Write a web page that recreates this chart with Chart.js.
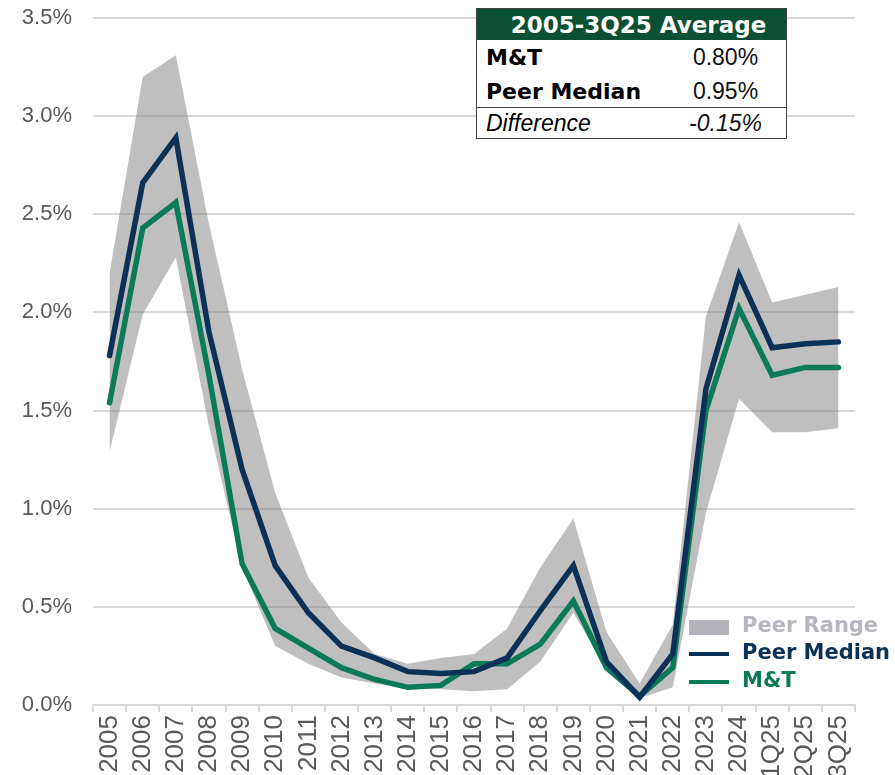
<!DOCTYPE html>
<html>
<head>
<meta charset="utf-8">
<script src="https://cdn.jsdelivr.net/npm/chart.js@4.4.1/dist/chart.umd.min.js"></script>
<style>
    html, body { margin: 0; padding: 0; background: #fff; overflow: hidden; }
    #wrap { position: relative; width: 895px; height: 775px; }
    #avg {
        position: absolute; left: 476px; top: 8px; width: 311px;
        border-collapse: collapse; background: #fff;
        border: 1.5px solid #404040;
    }
    #avg td { padding: 0; white-space: nowrap; }
    #avg .head td {
        height: 31px; background: #0b4f35; color: #fff; text-align: center;
        font: bold 23px "DejaVu Sans", sans-serif; padding-left: 14px;
    }
    #avg .lbl { width: 179px; padding-left: 9px; font: bold 22px "DejaVu Sans", sans-serif; color: #000; }
    #avg .val { text-align: center; font: 23px "Liberation Sans", Arial, sans-serif; color: #111; }
    #avg .r1 td { height: 35px; }
    #avg .r2 td { height: 32px; }
    #avg .r3 td { height: 30px; border-top: 1.5px solid #404040; font-style: italic; font-weight: normal; }
    #avg .r3 .lbl { font: italic 23px "Liberation Sans", Arial, sans-serif; }
    .lg { position: absolute; left: 689px; height: 28px; width: 210px; }
    .lg .sw { position: absolute; left: 0; width: 40px; }
    .lg span { position: absolute; left: 53px; top: 0; line-height: 28px; font: bold 21px "DejaVu Sans", sans-serif; }
</style>
</head>
<body>
<div id="wrap">
    <canvas id="chartNco" width="895" height="775"></canvas>
    <table id="avg">
        <tr class="head"><td colspan="2">2005-3Q25 Average</td></tr>
        <tr class="r1"><td class="lbl">M&amp;T</td><td class="val">0.80%</td></tr>
        <tr class="r2"><td class="lbl">Peer Median</td><td class="val">0.95%</td></tr>
        <tr class="r3"><td class="lbl">Difference</td><td class="val">-0.15%</td></tr>
    </table>
    <div class="lg" style="top:613px;"><div class="sw" style="top:7px;height:15px;background:#b2b2b8;"></div><span style="color:#b6b6be;">Peer Range</span></div>
    <div class="lg" style="top:640px;"><div class="sw" style="top:12px;height:4px;background:#0c3156;"></div><span style="color:#0c3156;">Peer Median</span></div>
    <div class="lg" style="top:668px;"><div class="sw" style="top:12px;height:4px;background:#0a7a58;"></div><span style="color:#0a7a58;">M&amp;T</span></div>
</div>
<script>
    const labels = ['2005', '2006', '2007', '2008', '2009', '2010', '2011', '2012', '2013', '2014',
        '2015', '2016', '2017', '2018', '2019', '2020', '2021', '2022', '2023', '2024',
        '1Q25', '2Q25', '3Q25'];

    // values in %
    const peerMedian = [1.78, 2.66, 2.89, 1.90, 1.20, 0.71, 0.47, 0.30, 0.24, 0.17,
        0.16, 0.17, 0.24, 0.48, 0.71, 0.22, 0.04, 0.26, 1.61, 2.19,
        1.82, 1.84, 1.85];
    const mtb = [1.54, 2.43, 2.56, 1.68, 0.72, 0.39, 0.29, 0.19, 0.13, 0.09,
        0.10, 0.21, 0.21, 0.31, 0.53, 0.19, 0.045, 0.19, 1.50, 2.02,
        1.68, 1.72, 1.72];
    const peerHigh = [2.20, 3.20, 3.31, 2.45, 1.71, 1.08, 0.65, 0.42, 0.26, 0.21,
        0.24, 0.26, 0.39, 0.70, 0.95, 0.37, 0.11, 0.41, 1.98, 2.46,
        2.05, 2.09, 2.13];
    const peerLow = [1.29, 1.99, 2.28, 1.42, 0.70, 0.30, 0.21, 0.14, 0.11, 0.09,
        0.08, 0.07, 0.08, 0.22, 0.47, 0.18, 0.035, 0.09, 0.98, 1.56,
        1.39, 1.39, 1.41];

    const yMin = 0;
    const yMax = 3.5;
    const yStep = 0.5;

    const axisColor = '#595959';
    const gridColor = '#d9d9d9';

    const ctx = document.getElementById('chartNco').getContext('2d');

    new Chart(ctx, {
        type: 'line',
        data: {
            labels: labels,
            datasets: [{
                label: 'Peer Low',
                data: peerLow,
                borderWidth: 0,
                pointRadius: 0,
                fill: false,
                order: 3
            }, {
                label: 'Peer Range',
                data: peerHigh,
                borderWidth: 0,
                pointRadius: 0,
                backgroundColor: 'rgba(128,128,128,0.5)',
                fill: '-1',
                order: 2
            }, {
                label: 'M&T',
                data: mtb,
                borderColor: '#0a7a58',
                borderWidth: 5.5,
                borderCapStyle: 'round',
                pointRadius: 0,
                fill: false,
                order: 1
            }, {
                label: 'Peer Median',
                data: peerMedian,
                borderColor: '#0c3156',
                borderWidth: 5.5,
                borderCapStyle: 'round',
                pointRadius: 0,
                fill: false,
                order: 0
            }]
        },
        options: {
            responsive: false,
            animation: false,
            devicePixelRatio: 1,
            layout: { padding: { top: 18, right: 40, left: 0, bottom: 0 } },
            plugins: {
                legend: { display: false },
                tooltip: { enabled: false }
            },
            elements: { line: { tension: 0 } },
            scales: {
                x: {
                    offset: true,
                    afterFit: function (s) {
                        s.height = 70;
                        s.paddingLeft = 0;
                        s.paddingRight = 0;
                    },
                    grid: { drawOnChartArea: false, offset: true, tickLength: 7, color: gridColor, lineWidth: 2 },
                    border: { display: true, color: gridColor, width: 2 },
                    ticks: {
                        autoSkip: false,
                        minRotation: 90,
                        maxRotation: 90,
                        padding: 3,
                        color: axisColor,
                        font: { family: '"Liberation Sans", Arial, sans-serif', size: 26 }
                    }
                },
                y: {
                    min: yMin,
                    max: yMax,
                    afterFit: function (s) {
                        s.width = 93;
                        s.paddingTop = 0;
                        s.paddingBottom = 0;
                    },
                    grid: { drawTicks: false, color: gridColor, lineWidth: 2 },
                    border: { display: false },
                    ticks: {
                        stepSize: yStep,
                        padding: 21,
                        color: axisColor,
                        font: { family: '"Liberation Sans", Arial, sans-serif', size: 22 },
                        callback: function (v) { return v.toFixed(1) + '%'; }
                    }
                }
            }
        }
    });
</script>
</body>
</html>
